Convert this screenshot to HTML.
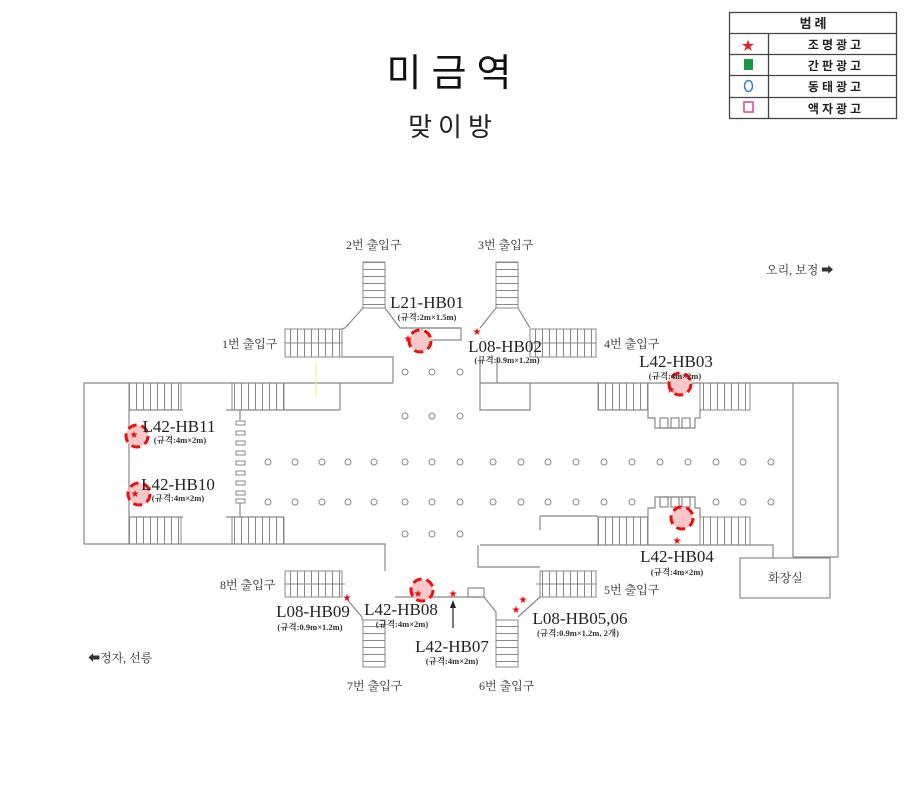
<!DOCTYPE html>
<html><head><meta charset="utf-8"><style>
body{margin:0;background:#fff;}
svg{display:block;font-family:"Liberation Serif","Noto Serif CJK SC","Noto Sans CJK KR",serif;}
.k{font-family:"Noto Sans CJK KR","NanumGothic",sans-serif;}
.s{font-family:"Liberation Serif","Noto Serif CJK SC",serif;}
</style></head><body>
<svg width="906" height="803" viewBox="0 0 906 803" xmlns="http://www.w3.org/2000/svg">
<defs>
<pattern id="vs" width="7" height="10" patternUnits="userSpaceOnUse"><line x1="3.5" y1="0" x2="3.5" y2="10" stroke="#888" stroke-width="1"/></pattern>
<pattern id="hs" width="10" height="7" patternUnits="userSpaceOnUse"><line x1="0" y1="3.5" x2="10" y2="3.5" stroke="#888" stroke-width="1"/></pattern>
</defs>
<text x="454" y="86" font-size="38" text-anchor="middle" class="k" letter-spacing="10" fill="#111">미금역</text>
<text x="453" y="136" font-size="26" text-anchor="middle" class="k" letter-spacing="6" fill="#222">맞이방</text>
<g stroke="#444" stroke-width="1.3" fill="none">
<rect x="729.5" y="12.5" width="167" height="106"/>
<line x1="729" y1="33.5" x2="897" y2="33.5"/><line x1="729" y1="54.5" x2="897" y2="54.5"/>
<line x1="729" y1="75.5" x2="897" y2="75.5"/><line x1="729" y1="97.5" x2="897" y2="97.5"/>
<line x1="768.5" y1="33" x2="768.5" y2="118"/>
</g>
<g class="k" font-size="12" text-anchor="middle" fill="#222" font-weight="bold">
<text x="813" y="28" font-size="13">범 례</text>
<text x="836" y="49" letter-spacing="3">조명광고</text>
<text x="836" y="70" letter-spacing="3">간판광고</text>
<text x="836" y="91" letter-spacing="3">동태광고</text>
<text x="836" y="113" letter-spacing="3">액자광고</text>
</g>
<text x="748" y="50" font-size="13" fill="#e02020" text-anchor="middle">★</text>
<rect x="744" y="59" width="9" height="11" fill="#1a9a40"/>
<ellipse cx="748.5" cy="86" rx="4" ry="5.5" fill="none" stroke="#3a7fd0" stroke-width="1.5"/>
<rect x="744" y="102" width="9" height="10" fill="none" stroke="#e0408a" stroke-width="1.5"/>

<g stroke="#888" stroke-width="1">
<rect x="129" y="383" width="52" height="27" fill="url(#vs)"/>
<rect x="232" y="383" width="52" height="27" fill="url(#vs)"/>
<rect x="129" y="517" width="52" height="27" fill="url(#vs)"/>
<rect x="232" y="517" width="52" height="27" fill="url(#vs)"/>
<rect x="598" y="383" width="50" height="27" fill="url(#vs)"/>
<rect x="700" y="383" width="50" height="27" fill="url(#vs)"/>
<rect x="598" y="517" width="50" height="28" fill="url(#vs)"/>
<rect x="700" y="517" width="50" height="28" fill="url(#vs)"/>
<rect x="285" y="329" width="57" height="28" fill="url(#vs)"/>
<rect x="530" y="329" width="66" height="28" fill="url(#vs)"/>
<rect x="285" y="571" width="57" height="26" fill="url(#vs)"/>
<rect x="540" y="571" width="56" height="26" fill="url(#vs)"/>
<rect x="363" y="262" width="22" height="46" fill="url(#hs)"/>
<rect x="496" y="262" width="22" height="46" fill="url(#hs)"/>
<rect x="363" y="620" width="22" height="47" fill="url(#hs)"/>
<rect x="496" y="620" width="22" height="47" fill="url(#hs)"/>
<line x1="285" y1="343" x2="342" y2="343"/><line x1="530" y1="343" x2="596" y2="343"/>
<line x1="285" y1="584" x2="345" y2="584"/><line x1="536" y1="584" x2="596" y2="584"/>
</g>

<g stroke="#888" stroke-width="1.2" fill="none">
<path d="M393,383 H84 V544 H385 V571"/>
<line x1="129" y1="410" x2="129" y2="544"/>
<line x1="129" y1="410" x2="183" y2="410"/>
<line x1="129" y1="517" x2="183" y2="517"/>
<line x1="226" y1="410" x2="340" y2="410"/>
<line x1="226" y1="517" x2="284" y2="517"/>
<path d="M340,383 V410"/>
<path d="M342,357 H393 V383"/>
<path d="M342,329 L345,328 L363,308"/>
<path d="M385,308 L400,328 H461"/>
<rect x="422" y="328" width="39" height="12"/>
<path d="M480,328 L496,308"/>
<path d="M518,308 L530,328"/>
<path d="M497,357 V383"/>
<path d="M480,357 V410 H530 V383"/>
<path d="M480,383 H838 V557"/>
<line x1="793" y1="383" x2="793" y2="557"/>
<path d="M793,557 H838"/>
<path d="M480,545 H773 V558"/>
<rect x="740" y="558" width="90" height="40"/>
<path d="M598,410 H648 V418 H655 V428 H695 V418 H700 V410"/>
<path d="M598,517 H648 V508 H655 V497 H695 V508 H700 V517"/>
<rect x="660" y="418" width="8" height="10"/><rect x="671" y="418" width="8" height="10"/><rect x="682" y="418" width="8" height="10"/>
<rect x="660" y="497" width="8" height="10"/><rect x="671" y="497" width="8" height="10"/><rect x="682" y="497" width="8" height="10"/>
<path d="M540,530 V516 H598"/>
<path d="M478,545 V567 H540"/>
<path d="M345,597 L362,617 V620"/>
<path d="M395,597 H484"/>
<rect x="468" y="588" width="16" height="9"/>
<path d="M484,597 L496,612 V620"/>
<path d="M540,597 L518,617"/>
<line x1="240" y1="410" x2="240" y2="420"/>
<line x1="240" y1="503" x2="240" y2="517"/>
</g>
<g stroke="#888" fill="none" stroke-width="1">
<rect x="236" y="421" width="9" height="4"/><rect x="236" y="431" width="9" height="4"/><rect x="236" y="441" width="9" height="4"/><rect x="236" y="451" width="9" height="4"/><rect x="236" y="461" width="9" height="4"/><rect x="236" y="471" width="9" height="4"/><rect x="236" y="481" width="9" height="4"/><rect x="236" y="491" width="9" height="4"/><rect x="236" y="499" width="9" height="4"/>
</g>
<line x1="316" y1="362" x2="316" y2="396" stroke="#f0f060" stroke-width="1"/>

<g stroke="#888" fill="none" stroke-width="1">
<circle cx="405" cy="372" r="3"/><circle cx="432" cy="372" r="3"/><circle cx="460" cy="372" r="3"/>
<circle cx="405" cy="416" r="3"/><circle cx="432" cy="416" r="3"/><circle cx="460" cy="416" r="3"/>
<circle cx="405" cy="534" r="3"/><circle cx="432" cy="534" r="3"/><circle cx="460" cy="534" r="3"/>
<circle cx="268" cy="462" r="3"/><circle cx="295" cy="462" r="3"/><circle cx="322" cy="462" r="3"/><circle cx="348" cy="462" r="3"/><circle cx="374" cy="462" r="3"/><circle cx="405" cy="462" r="3"/><circle cx="432" cy="462" r="3"/><circle cx="460" cy="462" r="3"/><circle cx="493" cy="462" r="3"/><circle cx="521" cy="462" r="3"/><circle cx="548" cy="462" r="3"/><circle cx="576" cy="462" r="3"/><circle cx="604" cy="462" r="3"/><circle cx="632" cy="462" r="3"/><circle cx="660" cy="462" r="3"/><circle cx="688" cy="462" r="3"/><circle cx="716" cy="462" r="3"/><circle cx="743" cy="462" r="3"/><circle cx="771" cy="462" r="3"/>
<circle cx="268" cy="502" r="3"/><circle cx="295" cy="502" r="3"/><circle cx="322" cy="502" r="3"/><circle cx="348" cy="502" r="3"/><circle cx="374" cy="502" r="3"/><circle cx="405" cy="502" r="3"/><circle cx="432" cy="502" r="3"/><circle cx="460" cy="502" r="3"/><circle cx="493" cy="502" r="3"/><circle cx="521" cy="502" r="3"/><circle cx="548" cy="502" r="3"/><circle cx="576" cy="502" r="3"/><circle cx="604" cy="502" r="3"/><circle cx="632" cy="502" r="3"/><circle cx="716" cy="502" r="3"/><circle cx="743" cy="502" r="3"/><circle cx="771" cy="502" r="3"/>
</g>

<g fill="#f8c8c8" stroke="#e81010" stroke-width="3" stroke-dasharray="9,5">
<circle cx="420" cy="341" r="11"/>
<circle cx="680" cy="384" r="11"/>
<circle cx="137" cy="436" r="11"/>
<circle cx="139" cy="494" r="11"/>
<circle cx="682" cy="518" r="11"/>
<circle cx="422" cy="590" r="11"/>
</g>
<g fill="#e81010" font-size="10" text-anchor="middle" font-family="DejaVu Sans,sans-serif">
<text x="408" y="342">★</text><text x="477" y="335">★</text>
<text x="134" y="438">★</text><text x="135" y="497">★</text>
<text x="677" y="544">★</text><text x="418" y="597">★</text>
<text x="453" y="597">★</text><text x="347" y="601">★</text>
<text x="523" y="603">★</text><text x="516" y="613">★</text>
<text x="671" y="393">★</text>
</g>
<line x1="453" y1="628" x2="453" y2="605" stroke="#222" stroke-width="1.2"/>
<path d="M450,608 L453,600 L456,608 Z" fill="#222"/>

<g font-size="17" fill="#222" text-anchor="middle">
<text x="427" y="308">L21-HB01</text>
<text x="505" y="352">L08-HB02</text>
<text x="676" y="367">L42-HB03</text>
<text x="179" y="432">L42-HB11</text>
<text x="178" y="490">L42-HB10</text>
<text x="677" y="562">L42-HB04</text>
<text x="313" y="617">L08-HB09</text>
<text x="401" y="615">L42-HB08</text>
<text x="452" y="652">L42-HB07</text>
<text x="580" y="624">L08-HB05,06</text>
</g>
<g font-size="8.5" fill="#333" text-anchor="middle" class="s" font-weight="bold">
<text x="427" y="320">(규격:2m×1.5m)</text>
<text x="507" y="363">(규격:0.9m×1.2m)</text>
<text x="675" y="379">(규격:4m×2m)</text>
<text x="180" y="443">(규격:4m×2m)</text>
<text x="178" y="501">(규격:4m×2m)</text>
<text x="677" y="575">(규격:4m×2m)</text>
<text x="310" y="630">(규격:0.9m×1.2m)</text>
<text x="402" y="627">(규격:4m×2m)</text>
<text x="452" y="664">(규격:4m×2m)</text>
<text x="578" y="636">(규격:0.9m×1.2m, 2개)</text>
</g>
<g class="s" font-size="12" fill="#333">
<text x="346" y="249">2번 출입구</text>
<text x="478" y="249">3번 출입구</text>
<text x="222" y="348">1번 출입구</text>
<text x="604" y="348">4번 출입구</text>
<text x="220" y="589">8번 출입구</text>
<text x="604" y="594">5번 출입구</text>
<text x="347" y="690">7번 출입구</text>
<text x="479" y="690">6번 출입구</text>
<text x="768" y="582">화장실</text>
<text x="766" y="274">오리, 보정 ➡</text>
<text x="88" y="662">⬅정자, 선릉</text>
</g>
</svg>
</body></html>
